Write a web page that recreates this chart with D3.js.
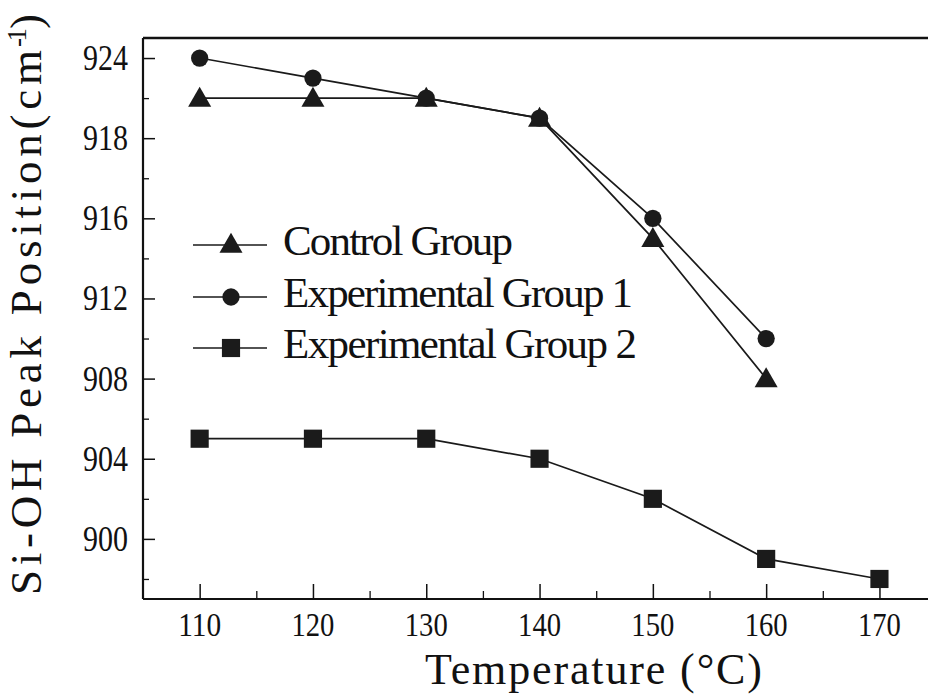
<!DOCTYPE html>
<html>
<head>
<meta charset="utf-8">
<script src="https://cdn.jsdelivr.net/npm/d3@7"></script>
<style>
  html, body { margin: 0; padding: 0; background: #fff; }
  svg { display: block; }
  text { font-family: "Liberation Serif", "DejaVu Serif", serif; fill: #111; }
</style>
</head>
<body>
<svg id="chart" width="928" height="700"></svg>
<script>
// Temperatures (°C) and Si-OH peak positions (cm^-1) for each group
const temperatures = [110, 120, 130, 140, 150, 160, 170];
const controlGroup = [922, 922, 922, 921, 915, 908];
const experimentalGroup1 = [924, 923, 922, 921, 916, 910];
const experimentalGroup2 = [905, 905, 905, 904, 902, 899, 898];

const seriesNames = ["Control Group", "Experimental Group 1", "Experimental Group 2"];
const seriesShapes = ["triangle", "circle", "square"];

// Y tick values and the labels printed beside them
const yTickValues = [900, 904, 908, 912, 916, 920, 924];
const yTickLabels = ["900", "904", "908", "912", "916", "918", "924"];
const yMinorTicks = [898, 902, 906, 910, 914, 918, 922];
const xTickValues = [110, 120, 130, 140, 150, 160, 170];
const xMinorTicks = [115, 125, 135, 145, 155, 165, 175];

const svg = d3.select("#chart");
const plotLeft = 143, plotTop = 38, plotBottom = 599;

const x = d3.scaleLinear().domain([105, 175]).range([plotLeft, plotLeft + 70 * 11.33]);
const y = d3.scaleLinear().domain([897, 925]).range([plotBottom, plotTop]);

// serif text fitted to a fixed width, as in a narrow fixed-pitch print face
function label(g, tx, ty, str, size, width, anchor, adjust) {
  return g.append("text")
    .attr("x", tx).attr("y", ty)
    .attr("font-size", size)
    .attr("text-anchor", anchor)
    .attr("textLength", width)
    .attr("lengthAdjust", adjust || "spacing")
    .text(str);
}

const axisColor = "#111";

// frame: left, top and bottom edges
svg.append("line").attr("x1", plotLeft).attr("x2", plotLeft).attr("y1", plotTop).attr("y2", plotBottom)
  .attr("stroke", axisColor).attr("stroke-width", 2.2);
svg.append("line").attr("x1", plotLeft).attr("x2", 928).attr("y1", plotTop).attr("y2", plotTop)
  .attr("stroke", axisColor).attr("stroke-width", 2.6);
svg.append("line").attr("x1", plotLeft).attr("x2", 928).attr("y1", plotBottom).attr("y2", plotBottom)
  .attr("stroke", axisColor).attr("stroke-width", 2.2);

// bottom axis ticks (inward)
const xAxis = d3.axisBottom(x).tickValues(xTickValues).tickSizeInner(-15).tickSizeOuter(0).tickFormat("");
const gx = svg.append("g").attr("transform", `translate(0,${plotBottom})`).call(xAxis);
gx.select(".domain").remove();
gx.selectAll(".tick line").attr("stroke", axisColor).attr("stroke-width", 1.5);
const xMinor = d3.axisBottom(x).tickValues(xMinorTicks).tickSizeInner(-8).tickSizeOuter(0).tickFormat("");
const gxm = svg.append("g").attr("transform", `translate(0,${plotBottom})`).call(xMinor);
gxm.select(".domain").remove();
gxm.selectAll(".tick line").attr("stroke", axisColor).attr("stroke-width", 1.3);

xTickValues.forEach(v => label(svg, x(v), 636, String(v), 34, 43, "middle", "spacingAndGlyphs"));

// left axis ticks (inward)
const yAxis = d3.axisLeft(y).tickValues(yTickValues).tickSizeInner(-12).tickSizeOuter(0).tickFormat("");
const gy = svg.append("g").attr("transform", `translate(${plotLeft},0)`).call(yAxis);
gy.select(".domain").remove();
gy.selectAll(".tick line").attr("stroke", axisColor).attr("stroke-width", 1.5);
const yMinor = d3.axisLeft(y).tickValues(yMinorTicks).tickSizeInner(-6).tickSizeOuter(0).tickFormat("");
const gym = svg.append("g").attr("transform", `translate(${plotLeft},0)`).call(yMinor);
gym.select(".domain").remove();
gym.selectAll(".tick line").attr("stroke", axisColor).attr("stroke-width", 1.3);

yTickValues.forEach((v, i) => label(svg, 128, y(v) + 12, yTickLabels[i], 35, 45, "end", "spacingAndGlyphs"));

// axis titles
label(svg, 425, 684, "Temperature (°C)", 44, 337, "start");

const yTitle = svg.append("g").attr("transform", "translate(41,595) rotate(-90)");
label(yTitle, 0, 0, "Si-OH Peak Position(cm", 45, 545, "start");
label(yTitle, 548, -15, "-1", 27, 19, "start");
label(yTitle, 566, 0, ")", 45, 14, "start");

// markers
const symbolFor = {
  triangle: d3.symbol().type(d3.symbolTriangle).size(230),
  circle: d3.symbol().type(d3.symbolCircle).size(235),
  square: d3.symbol().type(d3.symbolSquare).size(330)
};
const markFill = "#1b1b1b";

const allSeries = [controlGroup, experimentalGroup1, experimentalGroup2];
const line = d3.line().x(d => x(d.t)).y(d => y(d.v));

allSeries.forEach((vals, si) => {
  const pts = vals.map((v, i) => ({ t: temperatures[i], v }));
  svg.append("path").datum(pts)
    .attr("d", line)
    .attr("fill", "none")
    .attr("stroke", "#1a1a1a")
    .attr("stroke-width", 1.7);
  svg.append("g").selectAll("path").data(pts).join("path")
    .attr("d", symbolFor[seriesShapes[si]])
    .attr("transform", d => `translate(${x(d.t)},${y(d.v) + (seriesShapes[si] === "triangle" ? 2 : 0)})`)
    .attr("fill", markFill);
});

// legend
const legendRows = [245, 297, 348];
const legendWidths = [230, 350, 354];
seriesNames.forEach((name, i) => {
  const ly = legendRows[i];
  svg.append("line").attr("x1", 193).attr("x2", 267).attr("y1", ly).attr("y2", ly)
    .attr("stroke", "#1a1a1a").attr("stroke-width", 1.5);
  svg.append("path").attr("d", symbolFor[seriesShapes[i]])
    .attr("transform", `translate(231,${ly + (seriesShapes[i] === "triangle" ? 1 : 0)})`)
    .attr("fill", markFill);
  label(svg, 283, ly + 10, name, 43, legendWidths[i], "start");
});
</script>
</body>
</html>
